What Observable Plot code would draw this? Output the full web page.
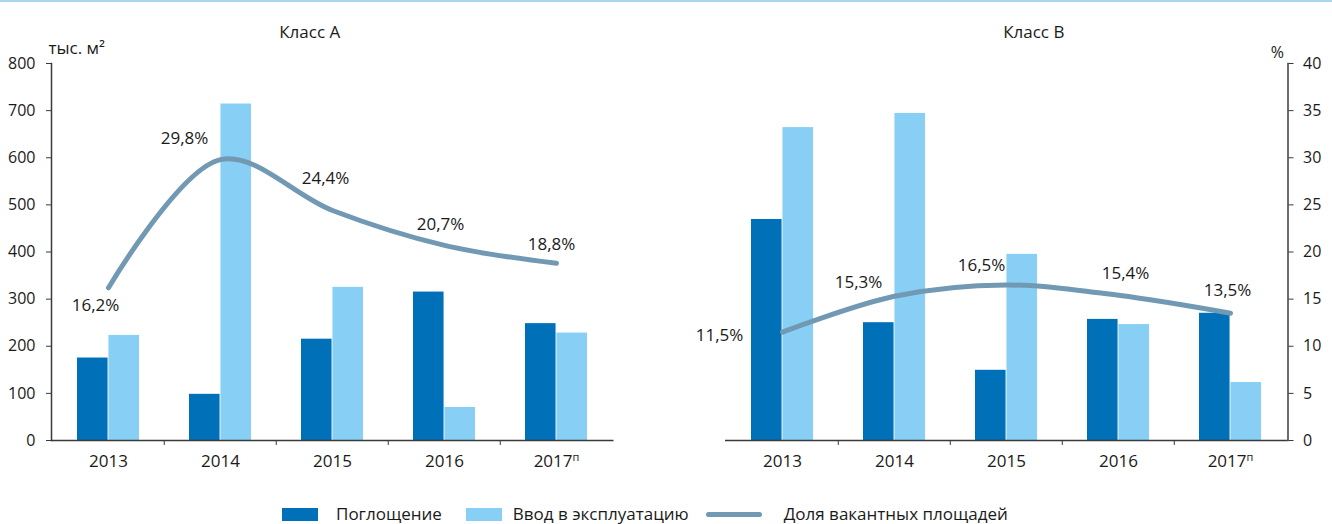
<!DOCTYPE html>
<html>
<head>
<meta charset="utf-8">
<script src="https://cdn.jsdelivr.net/npm/d3@7"></script>
<script src="https://cdn.jsdelivr.net/npm/@observablehq/plot@0.6"></script>
<style>
  html, body { margin: 0; padding: 0; background: #fff; }
  body { width: 1332px; height: 524px; overflow: hidden; font-family: "Open Sans", sans-serif; color: #1a1a1a; }
  #topline { height: 2px; background: #a9d5f0; }
  #charts { display: flex; height: 478px; }
  #charts > div { width: 666px; height: 478px; }
  #legend { height: 44px; box-sizing: border-box; padding-top: 24px; padding-left: 282px; display: flex; align-items: center; font-size: 17px; line-height: 20px; }
  #legend .item { display: flex; align-items: center; height: 20px; }
</style>
</head>
<body>
<div id="topline"></div>
<div id="charts"><div id="panelA"></div><div id="panelB"></div></div>
<div id="legend"></div>
<script>
// ---------- data ----------
const years = ["2013", "2014", "2015", "2016", "2017"];
const yearLabels = ["2013", "2014", "2015", "2016", "2017п"];
const panelTitles = ["Класс А", "Класс В"];
const seriesNames = ["Поглощение", "Ввод в эксплуатацию", "Доля вакантных площадей"];
const unitLeft = "тыс. м²";
const unitRight = "%";

const absorptionA = [175, 98, 215, 315, 248];
const commissioningA = [223, 714, 325, 70, 228];
const vacancyA = [16.2, 29.8, 24.4, 20.7, 18.8];

const absorptionB = [469, 250, 149, 257, 270];
const commissioningB = [664, 694, 395, 246, 123];
const vacancyB = [11.5, 15.3, 16.5, 15.4, 13.5];

const areaTicks = [0, 100, 200, 300, 400, 500, 600, 700, 800];
const pctTicks = [0, 5, 10, 15, 20, 25, 30, 35, 40];

// ---------- style ----------
const DARK = "#0070b9";
const LIGHT = "#88cff5";
const LINE = "#7299b4";
const AXIS = "#3a3a3a";
const TEXT = "#1a1a1a";
const ratio = areaTicks[areaTicks.length - 1] / pctTicks[pctTicks.length - 1];
const fmtPct = v => v.toFixed(1).replace(".", ",") + "%";

// label nudges (pixels) relative to each line point
const nudgeA = {"2013": [-13, 18], "2014": [-36, -21], "2015": [-7, -32], "2016": [-4, -21], "2017": [-5, -19]};
const nudgeB = {"2013": [-63, 3], "2014": [-36, -14], "2015": [-25, -19], "2016": [7, -22], "2017": [-3, -23]};

function panel({title, absorption, commissioning, vacancy, side, ml, mr, titleDx, nudge}) {
  const W = 666, H = 478, mt = 61, mb = 40;
  const pInner = 0.45, pOuter = 0.225;
  const step = (W - ml - mr) / years.length;
  const bw = step * (1 - pInner);
  const rows = years.map((y, i) => ({year: y, a: absorption[i], c: commissioning[i], v: vacancy[i]}));

  const labelMarks = rows.map(r => Plot.text([r], {
    x: "year", y: d => d.v * ratio, text: d => fmtPct(d.v),
    dx: nudge[r.year][0], dy: nudge[r.year][1], fontSize: 17, fill: TEXT
  }));

  const yAxis = side === "left"
    ? [
        Plot.axisY(areaTicks, {anchor: "left", tickSize: 5, tickPadding: 11, label: null, fontSize: 16, stroke: AXIS, fill: TEXT}),
        Plot.text([unitLeft], {frameAnchor: "top-left", dx: -3, dy: -22, fontSize: 17, fill: TEXT})
      ]
    : [
        Plot.axisY(areaTicks, {anchor: "right", tickSize: 5, tickPadding: 10, label: null, tickFormat: d => d / ratio, fontSize: 16, stroke: AXIS, fill: TEXT}),
        Plot.text([unitRight], {frameAnchor: "top-right", dx: -4, dy: -17, fontSize: 16, fill: TEXT})
      ];

  const svg = Plot.plot({
    width: W, height: H,
    marginLeft: ml, marginRight: mr, marginTop: mt, marginBottom: mb,
    style: {fontFamily: "Open Sans, sans-serif", fontSize: "16px", color: TEXT, background: "transparent"},
    x: {type: "band", domain: years, paddingInner: pInner, paddingOuter: pOuter, label: null},
    y: {domain: [areaTicks[0], areaTicks[areaTicks.length - 1]], label: null},
    marks: [
      Plot.barY(rows, {x: "year", y: "a", fill: DARK, insetRight: bw / 2 + 0.5}),
      Plot.barY(rows, {x: "year", y: "c", fill: LIGHT, insetLeft: bw / 2 + 0.5}),
      Plot.ruleY([0], {stroke: AXIS, strokeWidth: 1.5}),
      Plot.frame({anchor: side, stroke: AXIS, strokeWidth: 1.5}),
      Plot.axisX({tickSize: 0, tickPadding: 14, fontSize: 17, fill: TEXT, label: null,
                  tickFormat: d => yearLabels[years.indexOf(d)]}),
      Plot.axisX(years.slice(1), {tickSize: 5, tickFormat: () => "", dx: -step / 2, stroke: AXIS, label: null}),
      ...yAxis,
      Plot.line(rows, {x: "year", y: d => d.v * ratio, curve: "catmull-rom", stroke: LINE, strokeWidth: 5, strokeLinecap: "round"}),
      ...labelMarks,
      Plot.text([title], {frameAnchor: "top", dx: titleDx, dy: -38, fontSize: 17, fill: TEXT})
    ]
  });

  // superscript for the forecast mark "п"
  svg.querySelectorAll("text").forEach(t => {
    if (t.textContent === "2017п") {
      t.textContent = "2017";
      const ts = document.createElementNS("http://www.w3.org/2000/svg", "tspan");
      ts.setAttribute("dy", "-6");
      ts.setAttribute("font-size", "11");
      ts.textContent = "п";
      t.appendChild(ts);
    }
  });
  return svg;
}

document.getElementById("panelA").appendChild(panel({
  title: panelTitles[0], absorption: absorptionA, commissioning: commissioningA, vacancy: vacancyA,
  side: "left", ml: 51, mr: 52.5, titleDx: -23, nudge: nudgeA
}));
document.getElementById("panelB").appendChild(panel({
  title: panelTitles[1], absorption: absorptionB, commissioning: commissioningB, vacancy: vacancyB,
  side: "right", ml: 59, mr: 44.5, titleDx: 27, nudge: nudgeB
}));

// ---------- legend ----------
const legend = document.getElementById("legend");
const swatches = [
  {name: seriesNames[0], css: `width:36px;height:13px;background:${DARK};`, gapAfterSwatch: 18, gapAfterText: 24},
  {name: seriesNames[1], css: `width:36px;height:13px;background:${LIGHT};`, gapAfterSwatch: 11, gapAfterText: 17},
  {name: seriesNames[2], css: `width:56px;height:5px;border-radius:3px;background:${LINE};`, gapAfterSwatch: 22, gapAfterText: 0}
];
swatches.forEach(s => {
  const item = document.createElement("div");
  item.className = "item";
  item.innerHTML = `<span style="display:inline-block;${s.css}margin-right:${s.gapAfterSwatch}px"></span><span style="margin-right:${s.gapAfterText}px">${s.name}</span>`;
  legend.appendChild(item);
});
</script>
</body>
</html>
